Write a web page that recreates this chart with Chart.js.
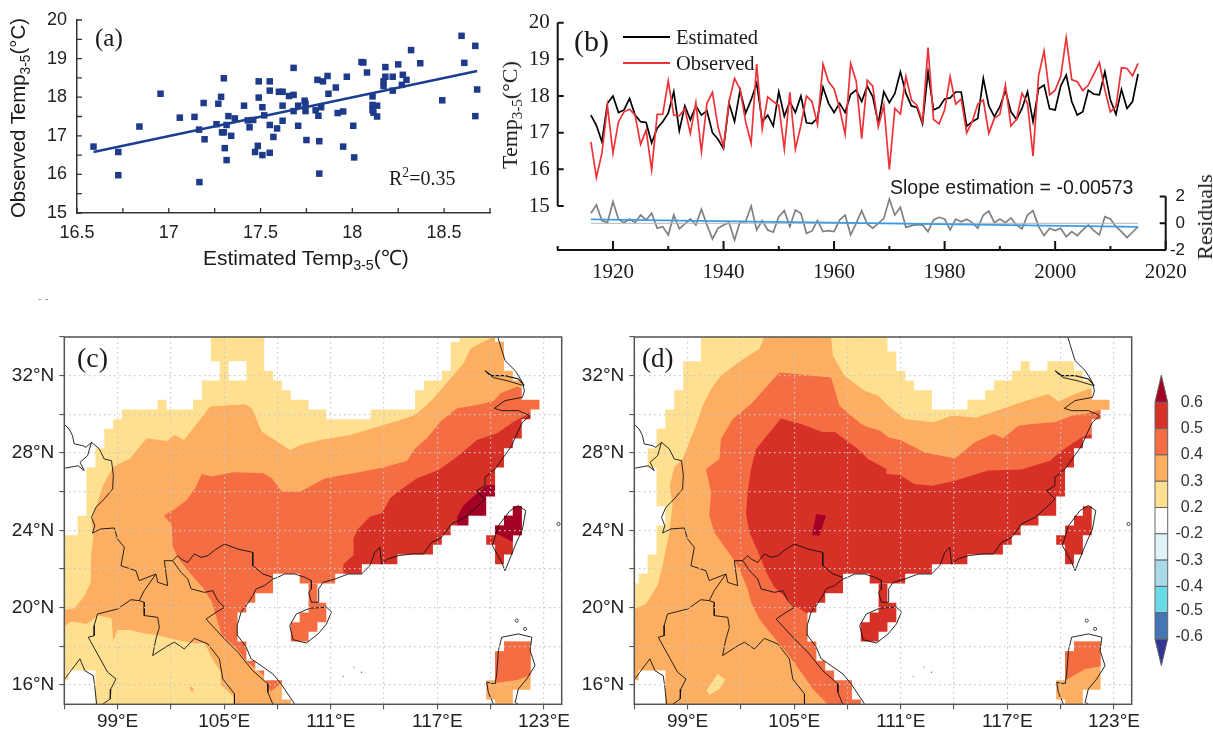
<!DOCTYPE html>
<html>
<head>
<meta charset="utf-8">
<title>Temp 3-5</title>
<script src="https://cdn.jsdelivr.net/npm/chart.js@4"></script>
<style>
body { margin: 0; background: #fff; }
#page { position: relative; width: 1213px; height: 729px; overflow: hidden; }
canvas { position: absolute; }
.t { position: absolute; white-space: nowrap; line-height: 1; color: #1a1a1a; transform: translateY(-50%); }
.rot { transform: translate(-50%, -50%) rotate(-90deg); }
.sans { font-family: "Liberation Sans", sans-serif; }
.serif { font-family: "Liberation Serif", serif; }
sub, sup { font-size: 68%; line-height: 0; }
.key { position: absolute; height: 2px; }
</style>
</head>
<body>
<div id="page">
  <canvas id="chartA" style="left:0;top:-30px" width="500" height="320"></canvas>
  <canvas id="chartB" style="left:500px;top:-30px" width="713" height="320"></canvas>
  <canvas id="chartC" style="left:0;top:295px" width="580" height="434"></canvas>
  <canvas id="chartD" style="left:570px;top:295px" width="580" height="434"></canvas>
  <canvas id="chartBar" style="left:1150px;top:335px" width="63" height="370"></canvas>

  <div class="t serif" style="left:95px;top:37px;font-size:25px">(a)</div>
  <div class="t serif" style="left:389px;top:178px;font-size:20px">R<sup>2</sup>=0.35</div>
  <div class="t sans" style="left:203px;top:257px;font-size:21px">Estimated Temp<sub>3-5</sub>(℃)</div>
  <div class="t sans rot" style="left:18px;top:118px;font-size:20.4px">Observed Temp<sub>3-5</sub>(°C)</div>
  <div class="t sans" style="left:38px;top:298px;font-size:11px;color:#888">- -</div>

  <div class="t serif" style="left:574px;top:41px;font-size:30px">(b)</div>
  <div class="key" style="left:623px;top:36px;width:47px;background:#000"></div>
  <div class="key" style="left:623px;top:62px;width:47px;background:#ee3338"></div>
  <div class="t serif" style="left:676px;top:37px;font-size:20.5px">Estimated</div>
  <div class="t serif" style="left:676px;top:63px;font-size:20.5px">Observed</div>
  <div class="t sans" style="left:890px;top:188px;font-size:19.5px">Slope estimation = -0.00573</div>
  <div class="t serif rot" style="left:510px;top:115px;font-size:22px">Temp<sub>3-5</sub>(°C)</div>
  <div class="t serif rot" style="left:1205px;top:217px;font-size:22px">Residuals</div>

  <div class="t serif" style="left:77px;top:358px;font-size:28px">(c)</div>
  <div class="t serif" style="left:642px;top:358px;font-size:27px">(d)</div>
</div>

<script>
// panel a
var aEstimated = [16.59,16.725,16.725,16.84,16.955,17.06,17.14,17.165,17.167,17.19,17.195,17.26,17.27,17.285,17.30,17.29,17.30,17.315,17.305,17.315,17.325,17.34,17.36,17.41,17.43,17.44,17.46,17.485,17.47,17.49,17.49,17.51,17.51,17.52,17.55,17.55,17.55,17.55,17.57,17.59,17.60,17.62,17.62,17.62,17.655,17.68,17.68,17.68,17.705,17.705,17.74,17.745,17.745,17.75,17.80,17.81,17.815,17.82,17.82,17.83,17.84,17.865,17.87,17.91,17.92,17.95,17.95,17.97,18.005,18.01,18.05,18.06,18.08,18.11,18.11,18.11,18.115,18.135,18.135,18.17,18.17,18.18,18.18,18.22,18.22,18.25,18.275,18.27,18.295,18.32,18.37,18.49,18.595,18.61,18.67,18.67,18.68];
var aObserved = [16.72,16.58,15.98,17.24,18.09,17.47,17.49,17.16,15.80,17.85,16.91,17.30,17.83,18.01,18.49,17.09,17.09,17.28,16.68,16.37,17.51,17.0,17.45,17.78,17.40,17.22,17.41,16.74,16.58,18.41,17.99,16.5,17.74,17.53,18.41,18.17,17.28,16.56,16.97,17.19,18.14,18.14,17.78,17.39,18.03,18.06,18.76,17.64,17.26,17.78,17.91,17.83,17.64,16.89,17.66,18.45,17.52,16.86,16.02,17.74,18.41,18.55,18.09,18.25,17.59,17.63,16.72,18.53,17.26,16.44,18.91,18.90,18.64,18.02,17.8,17.67,17.6,17.78,17.5,18.41,18.29,18.78,18.53,18.17,18.53,18.85,18.58,18.32,18.45,19.22,18.88,17.92,19.59,18.89,19.33,17.51,18.2];
var aFitX = [16.59,18.68];
var aFitY = [16.58,18.68];
var aXTicks = [16.5,16.75,17,17.25,17.5,17.75,18,18.25,18.5,18.75];
var aXLabels = ['16.5','','17','','17.5','','18','','18.5',''];
var aYTicks = [15,15.5,16,16.5,17,17.5,18,18.5,19,19.5,20];
var aYLabels = ['15','','16','','17','','18','','19','','20'];

// panel b
var bEstimated = [17.48,17.2,16.75,17.8,18.0,17.55,17.62,17.93,17.48,17.3,17.28,16.72,17.12,17.3,17.53,18.12,17.05,17.73,17.35,17.73,17.48,17.6,17.0,16.82,16.57,17.8,17.3,18.16,17.53,17.9,18.35,17.3,17.48,17.18,18.12,17.45,17.85,17.55,18.0,17.27,17.25,17.4,18.24,17.8,17.55,17.8,17.55,18.05,18.16,17.85,18.27,17.98,17.25,18.12,17.82,18.07,18.66,18.07,17.73,17.69,17.24,18.66,17.62,17.69,17.92,17.95,18.11,18.11,17.18,17.3,17.39,18.48,17.73,17.44,17.71,18.15,17.57,17.36,17.66,18.12,17.3,18.2,18.3,17.65,17.62,18.27,18.57,17.85,17.48,17.57,18.16,18.05,18.03,18.66,17.89,17.5,18.18,17.66,17.85,18.6];
var bObserved = [16.75,15.78,16.44,17.73,16.44,17.3,17.57,17.64,17.48,16.68,17.07,15.98,17.5,17.5,18.41,17.48,17.46,17.65,16.98,17.82,16.48,17.8,18.1,17.16,16.62,17.85,18.48,18.18,17.3,16.71,18.87,17.1,17.98,17.85,17.75,16.55,18.1,16.55,17.2,18.0,17.85,17.23,18.87,18.39,18.2,17.66,16.96,18.89,18.41,16.84,18.43,18.27,17.16,17.75,16.0,17.66,17.51,18.53,17.89,17.75,17.3,19.32,17.36,17.24,17.62,18.53,17.78,17.92,17.0,17.3,17.78,17.89,16.98,17.39,17.5,18.3,17.18,17.36,18.07,17.8,16.36,18.55,19.23,18.03,18.16,18.53,19.59,18.45,18.39,18.15,18.3,18.6,18.91,18.16,17.57,17.71,18.77,18.75,18.55,18.89];
var bResidual = [0.75,1.38,0.2,0.05,1.62,0.3,0.05,0.32,0.05,0.62,0.25,0.75,-0.37,-0.25,-0.87,0.62,-0.42,-0.05,0.32,-0.12,1.05,-0.12,-1.17,-0.37,-0.12,0.05,-1.25,0.12,0.12,1.3,-0.5,0.2,-0.5,-0.67,0.5,0.95,-0.25,1.0,0.75,-0.75,-0.57,0.2,-0.62,-0.55,-0.62,0.25,0.62,-0.87,0,0.95,-0.05,-0.37,0,0.37,1.82,0.62,1.2,-0.3,-0.17,-0.1,-0.12,-0.62,0.25,0.45,0.32,-0.5,0.32,0.12,0.3,0.05,-0.37,0.62,0.92,0.05,0.32,0.05,0.4,-0.12,-0.42,0.62,0.95,-0.25,-0.92,-0.37,-0.55,-0.37,-1.0,-0.62,-0.92,-0.5,-0.12,-0.55,-0.87,0.5,0.32,-0.25,-0.62,-1.07,-0.67,-0.25];
var bYears = [];
for (var yr = 1916; yr <= 2015; yr++) { bYears.push(yr); }
var bTrendX = [1916,2015];
var bTrendY = [0.3,-0.27];
var bZeroY = [0,0];
var bXMajor = [1920,1940,1960,1980,2000,2020];
var bXLabels = ['1920','1940','1960','1980','2000','2020'];
var bXMinor = [1910,1930,1950,1970,1990,2010];
var bYTicks = [15,16,17,18,19,20];
var bResTicks = [-2,0,2];

// maps, all pairs are lon,lat
var mapLonTicks = [96,99,102,105,108,111,114,117,120,123];
var mapLonLabels = ['','99°E','','105°E','','111°E','','117°E','','123°E'];
var mapLatTicks = [16,18,20,22,24,26,28,30,32,34];
var mapLatLabels = ['16°N','','20°N','','24°N','','28°N','','32°N',''];

var wholeMap = [96,15, 124,15, 124,34, 96,34];

var cLevel3 = [96,19.02, 96.41,19.28, 97.25,19.16, 97.91,19.59, 98.66,19.45, 98.76,18.24, 98.98,18.84, 99.7,18.84, 100.45,18.67, 101.2,18.59, 102.33,18.33, 103.27,18.16, 103.92,18.16, 104.3,17.38, 104.81,16.69, 104.81,16, 105.52,15.4, 105.52,15, 124,15, 124,34, 120.25,34, 119.98,33.93, 118.86,33.41, 118.48,32.64, 116.7,30.74, 115.76,29.97, 114.91,29.71, 112.09,28.93, 110.4,28.67, 109.27,28.41, 108.72,28.16, 107.12,29.1, 106.56,30.31, 106.18,30.52, 104.21,30.4, 102.74,28.67, 102.23,28.93, 101.76,28.62, 100.64,28.76, 99.7,27.72, 98.76,27.29, 98.19,26.34, 97.53,24.45, 97.63,23.59, 97.5,22.72, 97.5,21.34, 97.16,20.66, 96.59,19.97, 96,19.88];
var cLevel4 = [101.61,24.76, 102.05,24.28, 102.1,23.16, 102.42,22.55, 103.08,21.78, 103.83,21, 104.3,20.31, 104.58,19.45, 104.86,18.59, 105.62,17.98, 106.27,17.21, 107.21,16.52, 107.63,15.66, 108.25,16.14, 124,16.14, 124,31.3, 121.77,31.34, 121.49,31.43, 120.55,31.09, 120.17,30.69, 119.23,30.48, 118.11,30.31, 117.17,29.62, 116.41,28.76, 115.76,28.24, 115.29,27.59, 113.78,27.21, 112.28,26.95, 110.68,26.69, 109.27,26, 108.25,26, 107.68,26.69, 107.21,26.95, 105.52,27, 104.3,26.78, 103.74,26.91, 103.36,26.17, 102.89,25.57, 102.14,25.05];
var cLevel5 = [111.71,21.5, 111.71,22.24, 112.28,22.72, 112.28,23.59, 112.56,24.1, 113.22,24.71, 113.88,24.88, 114.35,25.66, 114.91,26.09, 115.85,26.69, 117.07,27.12, 118.11,27.81, 119.23,28.67, 120.36,29.02, 121.3,29.62, 122.24,30.1, 124,30.1, 124,21.5];
var cLevel6 = [118.11,24, 118.11,24.7, 118.48,25.31, 119.23,25.91, 119.8,26.34, 124,26.34, 124,24];
var cSpot = [103.1,15.95, 103.3,15.78, 103.2,15.62, 103.05,15.8];
var cWestMask = [96,34, 104.25,34, 104.25,32.75, 104.75,32.75, 104.75,31.75, 103.75,31.75, 103.75,30.75, 103.25,30.75, 103.25,30.25, 101.75,30.25, 101.75,30.75, 101.25,30.75, 101.25,30.25, 99.25,30.25, 99.25,29.75, 98.75,29.75, 98.75,29.25, 98.25,29.25, 98.25,28.25, 97.75,28.25, 97.75,27.25, 97.25,27.25, 97.25,24.75, 96.75,24.75, 96.75,23.75, 96,23.75];
var cHole = [105.25,32.75, 106.25,32.75, 106.25,31.75, 105.25,31.75];
var cNorthMask = [107.25,34, 107.25,32.25, 107.75,32.25, 107.75,31.75, 108.25,31.75, 108.25,31.25, 108.75,31.25, 108.75,30.75, 109.75,30.75, 109.75,30.25, 110.75,30.25, 110.75,29.75, 113.25,29.75, 113.25,30.25, 115.75,30.25, 115.75,31.25, 116.25,31.25, 116.25,31.75, 117.25,31.75, 117.25,32.25, 117.75,32.25, 117.75,33.75, 118.25,33.75, 118.25,34];
var cTopRow = [120.25,34, 120.75,34, 120.75,33.75, 120.25,33.75];
var cTaiwanDark = [121.25,25.25, 121.75,25.25, 121.75,23.75, 121.25,23.75, 121.25,23.4, 120.6,23.7, 120.25,23.85, 120.25,24.25, 120.75,24.25, 120.75,24.75, 121.25,24.75];
var cLuzonTop = [120.75,18.25, 122.25,18.25, 122.25,16.52, 121.5,16.26, 120.25,16.1, 120.25,17.75, 120.75,17.75];

var dLevel3 = [96,19.93, 96.65,20.19, 97.31,21.14, 97.59,22.17, 97.97,23.9, 98.15,25.28, 98,26.31, 98.25,27.26, 98.72,27.69, 99.09,28.55, 99.47,29.41, 99.85,30.45, 100.32,31.31, 100.88,32, 102.01,32.78, 103.04,33.38, 103.32,34, 107.08,34, 107.18,33.03, 107.83,32, 108.96,31.22, 109.72,30.97, 110.29,30.45, 111.23,29.76, 112.82,29.59, 113.86,29.93, 115.27,29.84, 116.68,30.28, 118.09,30.71, 119.31,31.05, 119.87,30.66, 120.81,31.05, 121.56,31.31, 124,31.31, 124,15, 96,15];
var dLevel4 = [106.89,15, 106.05,15.79, 105.39,16.66, 104.64,17.6, 103.7,18.64, 103.04,19.41, 102.57,20.28, 102.38,20.97, 101.91,22, 101.44,22.69, 100.5,23.9, 100.22,24.76, 100.32,25.97, 100.03,27.17, 100.79,27.69, 100.88,28.72, 101.54,29.76, 102.57,30.53, 104.17,32.17, 107.08,31.91, 107.55,30.45, 108.77,29.5, 109.16,29.33, 109.82,29.16, 110.29,28.81, 111.04,28.64, 112.35,28.03, 114.05,27.72, 115.17,28.55, 116.21,28.98, 116.77,28.76, 117.62,29.41, 118.37,29.5, 119.68,29.59, 120.62,29.93, 121.56,30.07, 122.41,30.28, 124,30.28, 124,15];
var dLevel5 = [105.86,19.62, 105.02,20.1, 103.89,21.05, 103.42,21.83, 103.14,22.52, 102.85,23.12, 102.48,23.9, 102.29,24.84, 102.38,25.97, 102.57,27.17, 102.85,28.21, 104.26,29.79, 105.39,29.5, 106.61,29.07, 107.27,29.1, 108.59,28.21, 109.16,27.69, 110.19,27.17, 110.19,26.91, 110.94,26.86, 111.75,26.4, 112.77,26.31, 114.05,26.57, 115.92,27.09, 117.8,27.14, 119.4,27.6, 120.06,28.12, 121.19,28.81, 121.79,28.98, 124,28.98, 124,19.62];
var dLevel6 = [106.24,24.84, 106.8,24.76, 106.42,23.72, 106.01,23.76];
var dSpot = [100.07,15.71, 100.69,16.57, 101.12,16.28, 100.79,15.79, 100.22,15.48];
var dWestMask = [96,34, 99.75,34, 99.75,32.75, 98.75,32.75, 98.75,31.25, 98.25,31.25, 98.25,30.25, 97.75,30.25, 97.75,29.25, 97.25,29.25, 97.25,28.25, 96.75,28.25, 96.75,27.25, 97.25,27.25, 97.25,25.25, 97.75,25.25, 97.75,24.25, 97.25,24.25, 97.25,22.75, 96.75,22.75, 96.75,21.75, 96.25,21.75, 96.25,21.25, 96,21.25];
var dNorthMask = [110.25,34, 110.25,33.25, 110.75,33.25, 110.75,32.25, 111.25,32.25, 111.25,31.75, 111.75,31.75, 111.75,31.25, 112.75,31.25, 112.75,30.25, 114.75,30.25, 114.75,30.75, 115.75,30.75, 115.75,31.25, 116.25,31.25, 116.25,31.75, 117.25,31.75, 117.25,32.25, 117.75,32.25, 117.75,32.75, 118.25,32.75, 118.25,32.25, 119.25,32.25, 119.25,32.75, 120.75,32.75, 120.75,34];
var dLuzonTop = [120.75,18.25, 122.25,18.25, 122.25,16.97, 121.38,16.83, 120.4,16.31, 120.25,16.25, 120.25,17.75, 120.75,17.75];

// land mask shared by both maps
var seaMask = [120.75,34, 120.75,32.25, 121.25,32.25, 121.25,31.75, 121.75,31.75, 121.75,30.75, 122.75,30.75, 122.75,30.25, 122.25,30.25, 122.25,29.75, 121.75,29.75, 121.75,28.75, 121.25,28.75, 121.25,28.25, 120.75,28.25, 120.75,27.25, 120.25,27.25, 120.25,25.75, 119.75,25.75, 119.75,24.75, 118.75,24.75, 118.75,24.25, 117.75,24.25, 117.75,23.75, 117.25,23.75, 117.25,23.25, 116.75,23.25, 116.75,22.75, 114.75,22.75, 114.75,22.25, 112.75,22.25, 112.75,21.75, 111.25,21.75, 111.25,21.25, 109.25,21.25, 109.25,21.75, 107.75,21.75, 107.75,20.75, 106.75,20.75, 106.75,20.25, 106.25,20.25, 106.25,19.75, 105.75,19.75, 105.75,18.25, 106.25,18.25, 106.25,17.25, 106.75,17.25, 106.75,16.75, 107.25,16.75, 107.25,16.25, 108.25,16.25, 108.25,15.25, 108.75,15.25, 108.75,15, 124,15, 124,34];
var bayMask = [96,16.25, 96.25,16.25, 96.25,16.75, 97.75,16.75, 97.75,15, 96,15];
var hainanCells = [109.75,21.25, 110.25,21.25, 110.25,20.25, 110.75,20.25, 110.75,19.25, 110.25,19.25, 110.25,18.75, 109.75,18.75, 109.75,18.25, 108.75,18.25, 108.75,19.25, 109.25,19.25, 109.25,19.75, 109.75,19.75];
var taiwanCells = [121.25,25.25, 121.75,25.25, 121.75,23.75, 121.25,23.75, 121.25,22.75, 120.75,22.75, 120.75,22.25, 120.25,22.25, 120.25,23.25, 119.75,23.25, 119.75,23.75, 120.25,23.75, 120.25,24.25, 120.75,24.25, 120.75,24.75, 121.25,24.75];
var luzonCells = [120.75,18.25, 122.25,18.25, 122.25,15.75, 121.25,15.75, 121.25,15, 120.25,15, 120.25,15.25, 119.75,15.25, 119.75,16.25, 120.25,16.25, 120.25,17.75, 120.75,17.75];

// coast and borders
var lineNorthBorder = [96,29.48, 96.27,29.24, 96.46,28.9, 96.56,28.47, 97.03,28.38, 97.21,28.29, 97.53,28.55, 97.97,28.21, 98.25,27.69, 98.66,27.6, 98.76,26.83, 98.72,26.14, 98.25,25.62, 97.78,25.19, 97.53,24.67, 97.72,24.24, 97.59,23.86, 98.06,24.07, 98.81,24.12, 99,23.55, 99.38,23.12, 99.19,22.17, 100.03,21.91, 100.22,21.4, 101.16,21.74, 101.26,21.31, 101.82,21.14, 101.63,22.43, 102.1,22.43, 102.38,22.69, 102.6,22.5, 102.95,22.34, 103.32,22.78, 103.7,22.6, 104.08,22.69, 104.5,23.0, 105.02,23.29, 105.77,23.03, 106.61,22.86, 106.61,22.17, 107.18,21.74, 107.74,21.57];
var lineIndiaBorder = [96,27.21, 96.78,27.34, 97.12,27.09, 96.89,27.52, 97.31,27.86, 97.53,28.55];
var lineVietnamLaos = [102.1,22.43, 102.57,21.83, 102.95,21.48, 103.14,20.97, 103.89,20.79, 104.36,20.88, 104.64,20.36, 105.02,20.02, 104.55,19.76, 103.98,19.41, 105.02,18.38, 105.77,17.69, 106.61,16.74, 107.46,16.05, 107.46,15.62, 107.74,15];
var lineLaosThai = [101.16,21.74, 100.5,20.88, 100.22,20.36, 100.5,20.28, 100.5,19.59, 101.26,19.5, 101.35,18.98, 101.16,18.38, 100.97,17.52, 101.82,18.03, 102.2,18.21, 102.76,17.86, 103.32,18.41, 104.08,18.12, 104.73,17.35, 104.92,16.31, 105.58,15.54, 105.58,15];
var lineBurmaThai = [100.22,20.36, 99.75,20.41, 99,19.93, 97.87,19.67, 97.68,19.07, 97.68,18.55, 97.35,18.47, 97.87,17.6, 98.44,16.66, 98.91,16.31, 98.62,15.79, 98.59,15.28, 98.15,15];
var lineBurmaCoast = [96,16.28, 96.31,16.66, 96.88,17.35, 97.16,16.74, 97.63,16.48, 97.72,15.88, 97.82,15];
var lineMainCoast = [108.96,15.02, 108.21,16.05, 107.74,16.57, 107.08,17, 106.52,17.35, 106.24,17.95, 105.77,18.55, 105.73,19.07, 105.95,19.76, 106.24,20.1, 106.61,20.62, 106.8,20.97, 107.27,21.14, 107.74,21.48, 108.02,21.57, 108.4,21.74, 108.97,21.74, 109.53,21.57, 109.91,21.4, 109.91,20.97, 109.76,20.79, 109.91,20.28, 110.29,20.28, 110.32,20.97, 110.57,21.31, 111.23,21.48, 111.98,21.74, 112.73,21.74, 113.2,22.17, 113.48,22.86, 113.76,23.12, 113.86,22.26, 114.23,22.52, 114.8,22.69, 115.64,22.78, 116.21,22.78, 116.68,23.38, 117.24,23.64, 117.8,24.33, 118.56,24.67, 119.31,25.28, 119.68,25.62, 119.21,26.05, 119.68,26.31, 119.68,26.74, 120.25,27.17, 120.72,27.78, 121.19,28.38, 121.38,28.81, 121.79,29.59, 122.22,29.93, 121.56,30.19, 120.62,30.19, 120.21,30.31, 120.81,30.71, 121.79,30.88, 121.9,31.22, 121.79,31.66, 121.38,32.26, 120.81,32.78, 120.4,34];
var lineYangtze = [119.68,32.26, 120.06,32, 120.81,32, 121.56,31.83, 121.9,31.48];
var lineYangtze2 = [119.78,32.15, 120.15,31.9, 120.97,31.73, 121.8,31.5];
var lineHainan = [108.69,19.07, 109.06,19.67, 109.82,19.97, 110.76,20.02, 111.04,19.79, 110.76,19.16, 110.29,18.64, 109.63,18.17, 108.88,18.34, 108.69,19.07];
var lineTaiwan = [121.56,25.28, 121.98,25.02, 121.79,24.07, 121.38,23.21, 120.81,21.91, 120.62,22.34, 120.1,23.21, 120.44,24.24, 121.09,25.02, 121.56,25.28];
var lineLuzonEast = [120.62,18.47, 121.56,18.64, 122.32,18.47, 122.22,17.78, 122.5,17, 122.03,16.31, 121.56,15.79, 121.38,15.1, 121.56,15];
var lineLuzonWest = [120.62,18.47, 120.44,17.78, 120.34,16.57, 120.25,16.05, 119.78,16.14, 119.87,15.62, 120.16,15];
var islets = [121.47,19.33, 121.94,18.9, 123.82,24.33];
var reefs = [112.3,16.93, 111.7,16.45, 112.73,16.66];

// colour bar, low to high
var barColors = ['#4575b4','#6adbe6','#abd9e9','#e0f3f8','#ffffff','#fee090','#fdae61','#f46d43','#d73027'];
var barLowColor = '#313695';
var barHighColor = '#a50026';
var barLabels = ['-0.6','-0.5','-0.4','-0.3','-0.2','0.2','0.3','0.4','0.5','0.6'];
var barLabelPos = [0.11,1.08,2,3,4,5,6,7,8,9];

var Y3 = '#fee090', O4 = '#fdae61', R5 = '#f46d43', D6 = '#d73027', K7 = '#a50026';

function toPoints(flat) {
  var out = [];
  for (var i = 0; i < flat.length; i += 2) {
    out.push({ x: flat[i], y: flat[i + 1] });
  }
  return out;
}

function zip(xs, ys) {
  return xs.map(function (x, i) { return { x: x, y: ys[i] }; });
}

function area(flat, color, outline) {
  return { data: toPoints(flat), polygon: true, showLine: false, pointRadius: 0, backgroundColor: color, outline: outline };
}

function line(flat, width) {
  return { data: toPoints(flat), showLine: true, pointRadius: 0, borderColor: '#111', borderWidth: width || 0.9, tension: 0, fill: false };
}

function setTicks(values) {
  return function (scale) {
    scale.ticks = values.map(function (v) { return { value: v }; });
  };
}

function fixWidth(w) { return function (scale) { scale.width = w; }; }
function fixHeight(h) { return function (scale) { scale.height = h; }; }

// closes a scatter dataset into a filled shape, points come from the scales
var polygonFill = {
  id: 'polygonFill',
  beforeDatasetDraw: function (chart, args) {
    var ds = chart.data.datasets[args.index];
    if (!ds.polygon) return;
    var ctx = chart.ctx;
    ctx.save();
    ctx.beginPath();
    args.meta.data.forEach(function (p, i) {
      if (i === 0) ctx.moveTo(p.x, p.y); else ctx.lineTo(p.x, p.y);
    });
    ctx.closePath();
    ctx.fillStyle = ds.backgroundColor;
    ctx.fill();
    if (ds.outline) {
      ctx.strokeStyle = ds.outline;
      ctx.lineWidth = 1;
      ctx.stroke();
    }
    ctx.restore();
  }
};

var mapFrame = {
  id: 'mapFrame',
  afterDraw: function (chart) {
    var a = chart.chartArea, ctx = chart.ctx;
    ctx.save();
    ctx.strokeStyle = '#555';
    ctx.lineWidth = 1.5;
    ctx.strokeRect(a.left, a.top, a.right - a.left, a.bottom - a.top);
    ctx.restore();
  }
};

// ticks in a and b point into the plot
function inwardTicks(list) {
  return {
    id: 'inwardTicks',
    afterDraw: function (chart) {
      var ctx = chart.ctx, a = chart.chartArea;
      ctx.save();
      list.forEach(function (t) {
        var s = chart.scales[t.scale];
        ctx.strokeStyle = t.color;
        ctx.lineWidth = t.width;
        ctx.beginPath();
        t.values.forEach(function (v) {
          var p = s.getPixelForValue(v);
          if (s.axis === 'x') { ctx.moveTo(p, a.bottom); ctx.lineTo(p, a.bottom - t.len); }
          else if (s.position === 'left') { ctx.moveTo(a.left, p); ctx.lineTo(a.left + t.len, p); }
          else { ctx.moveTo(a.right, p); ctx.lineTo(a.right - t.len, p); }
        });
        ctx.stroke();
      });
      ctx.restore();
    }
  };
}

// left and right axis of panel b stop at their own value range
var axisParts = {
  id: 'axisParts',
  afterDraw: function (chart) {
    var ctx = chart.ctx, a = chart.scales.y, b = chart.scales.yRes;
    ctx.save();
    ctx.strokeStyle = '#111';
    ctx.lineWidth = 2;
    ctx.beginPath();
    ctx.moveTo(chart.chartArea.left, a.getPixelForValue(15));
    ctx.lineTo(chart.chartArea.left, a.getPixelForValue(20));
    ctx.moveTo(chart.chartArea.right, b.getPixelForValue(-2));
    ctx.lineTo(chart.chartArea.right, b.getPixelForValue(2));
    ctx.stroke();
    ctx.restore();
  }
};

Chart.defaults.animation = false;
Chart.defaults.events = [];
Chart.defaults.responsive = false;
Chart.defaults.plugins.legend.display = false;
Chart.defaults.plugins.tooltip.enabled = false;

new Chart(document.getElementById('chartA'), {
  type: 'scatter',
  data: {
    datasets: [
      { data: zip(aFitX, aFitY), showLine: true, pointRadius: 0, borderColor: '#1c3f8f', borderWidth: 2.6 },
      { data: zip(aEstimated, aObserved), pointStyle: 'rect', pointRadius: 4.6, pointBackgroundColor: '#1e3a8a', pointBorderWidth: 0 }
    ]
  },
  options: {
    layout: { padding: { top: 50, right: 10 } },
    scales: {
      x: {
        type: 'linear', min: 16.5, max: 18.75,
        afterBuildTicks: setTicks(aXTicks), afterFit: fixHeight(77),
        ticks: { autoSkip: false, maxRotation: 0, padding: 9, color: '#222', font: { family: 'Liberation Sans', size: 18 }, callback: function (v, i) { return aXLabels[i]; } },
        grid: { drawOnChartArea: false, drawTicks: false },
        border: { color: '#333', width: 1.5 }
      },
      y: {
        min: 15, max: 20,
        afterBuildTicks: setTicks(aYTicks), afterFit: fixWidth(77),
        ticks: { autoSkip: false, padding: 10, color: '#222', font: { family: 'Liberation Sans', size: 18 }, callback: function (v, i) { return aYLabels[i]; } },
        grid: { drawOnChartArea: false, drawTicks: false },
        border: { color: '#333', width: 1.5 }
      }
    }
  },
  plugins: [inwardTicks([
    { scale: 'x', values: aXTicks, len: 5, width: 1.3, color: '#333' },
    { scale: 'y', values: aYTicks, len: 5, width: 1.3, color: '#333' }
  ])]
});

new Chart(document.getElementById('chartB'), {
  type: 'scatter',
  data: {
    datasets: [
      { data: zip(bYears, bObserved), showLine: true, pointRadius: 0, borderColor: '#ee3338', borderWidth: 1.7 },
      { data: zip(bYears, bEstimated), showLine: true, pointRadius: 0, borderColor: '#000', borderWidth: 1.7 },
      { data: zip(bTrendX, bTrendY), yAxisID: 'yRes', showLine: true, pointRadius: 0, borderColor: '#3a9be8', borderWidth: 1.7 },
      { data: zip(bTrendX, bZeroY), yAxisID: 'yRes', showLine: true, pointRadius: 0, borderColor: '#b5b5b5', borderWidth: 1 },
      { data: zip(bYears, bResidual), yAxisID: 'yRes', showLine: true, pointRadius: 0, borderColor: '#808080', borderWidth: 1.7 }
    ]
  },
  options: {
    layout: { padding: { top: 52.7, right: 28 } },
    scales: {
      x: {
        type: 'linear', min: 1910, max: 2020,
        afterBuildTicks: setTicks(bXMajor), afterFit: fixHeight(40),
        ticks: { autoSkip: false, maxRotation: 0, padding: 10, color: '#1a1a1a', font: { family: 'Liberation Serif', size: 21 }, callback: function (v, i) { return bXLabels[i]; } },
        grid: { drawOnChartArea: false, drawTicks: false },
        border: { color: '#111', width: 2 }
      },
      y: {
        position: 'left', min: 13.8, max: 20,
        afterBuildTicks: setTicks(bYTicks), afterFit: fixWidth(57.7),
        ticks: { autoSkip: false, padding: 8, color: '#1a1a1a', font: { family: 'Liberation Serif', size: 21 } },
        grid: { drawOnChartArea: false, drawTicks: false },
        border: { display: false }
      },
      yRes: {
        position: 'right', min: -2, max: 15.03,
        afterBuildTicks: setTicks(bResTicks), afterFit: fixWidth(19.3),
        ticks: { autoSkip: false, crossAlign: 'far', color: '#1a1a1a', font: { family: 'Liberation Sans', size: 17 } },
        grid: { drawOnChartArea: false, drawTicks: false },
        border: { display: false }
      }
    }
  },
  plugins: [axisParts, inwardTicks([
    { scale: 'x', values: bXMajor, len: 9, width: 2, color: '#111' },
    { scale: 'x', values: bXMinor, len: 4, width: 2, color: '#111' },
    { scale: 'y', values: bYTicks, len: 6, width: 2, color: '#111' },
    { scale: 'yRes', values: bResTicks, len: 6, width: 2, color: '#111' }
  ])]
});

function mapChart(id, layers) {
  layers.forEach(function (ds, i) { ds.order = layers.length - i; });
  new Chart(document.getElementById(id), {
    type: 'scatter',
    data: { datasets: layers },
    options: {
      layout: { padding: { top: 42, right: 18.3 } },
      scales: {
        x: {
          type: 'linear', min: 96, max: 124,
          afterBuildTicks: setTicks(mapLonTicks), afterFit: fixHeight(24.7),
          ticks: { autoSkip: false, maxRotation: 0, padding: 1, color: '#222', font: { family: 'Liberation Sans', size: 19 }, callback: function (v, i) { return mapLonLabels[i]; } },
          grid: { z: 1, color: '#c8c8c8', lineWidth: 1.2, tickLength: 5, tickColor: '#444', tickWidth: 1 },
          border: { display: false, dash: [1.5, 3.5] }
        },
        y: {
          min: 15, max: 34,
          afterBuildTicks: setTicks(mapLatTicks), afterFit: fixWidth(64.3),
          ticks: { autoSkip: false, padding: 5, color: '#222', font: { family: 'Liberation Sans', size: 19 }, callback: function (v, i) { return mapLatLabels[i]; } },
          grid: { z: 1, color: '#c8c8c8', lineWidth: 1.2, tickLength: 5, tickColor: '#444', tickWidth: 1 },
          border: { display: false, dash: [1.5, 3.5] }
        }
      }
    },
    plugins: [polygonFill, mapFrame]
  });
}

function coastLayers() {
  return [
    line(lineNorthBorder), line(lineIndiaBorder), line(lineVietnamLaos), line(lineLaosThai), line(lineBurmaThai), line(lineBurmaCoast),
    line(lineMainCoast), line(lineYangtze, 1.2), line(lineYangtze2), line(lineHainan), line(lineTaiwan), line(lineLuzonEast), line(lineLuzonWest),
    { data: toPoints(islets), pointRadius: 1.6, pointBackgroundColor: '#fff', pointBorderColor: '#222', pointBorderWidth: 0.8 },
    { data: toPoints(reefs), pointRadius: 0.6, pointBackgroundColor: '#444', pointBorderWidth: 0 }
  ];
}

mapChart('chartC', [
  area(wholeMap, Y3), area(cLevel3, O4), area(cLevel4, R5), area(cLevel5, D6), area(cLevel6, K7), area(cSpot, O4),
  area(seaMask, '#fff'), area(bayMask, '#fff'), area(cWestMask, '#fff'), area(cHole, '#fff'), area(cNorthMask, '#fff'), area(cTopRow, '#fff'),
  area(hainanCells, R5), area(taiwanCells, D6), area(cTaiwanDark, K7), area(luzonCells, O4), area(cLuzonTop, R5)
].concat(coastLayers()));

mapChart('chartD', [
  area(wholeMap, Y3), area(dLevel3, O4), area(dSpot, Y3), area(dLevel4, R5), area(dLevel5, D6), area(dLevel6, K7),
  area(seaMask, '#fff'), area(bayMask, '#fff'), area(dWestMask, '#fff'), area(dNorthMask, '#fff'),
  area(hainanCells, D6), area(taiwanCells, D6), area(luzonCells, O4), area(dLuzonTop, R5)
].concat(coastLayers()));

var barLayers = barColors.map(function (c, i) {
  return area([0, i, 1, i, 1, i + 1, 0, i + 1], c, '#666');
});
barLayers.push(area([0, 0, 1, 0, 0.5, -1.015], barLowColor, '#666'));
barLayers.push(area([0, 9, 1, 9, 0.5, 10.04], barHighColor, '#666'));

new Chart(document.getElementById('chartBar'), {
  type: 'scatter',
  data: { datasets: barLayers },
  options: {
    layout: { padding: { top: 40, bottom: 39.3, left: 5, right: 10 } },
    scales: {
      x: { type: 'linear', min: 0, max: 1, display: false },
      y: {
        position: 'right', min: -1.015, max: 10.04,
        afterBuildTicks: setTicks(barLabelPos), afterFit: fixWidth(35.3),
        ticks: { autoSkip: false, crossAlign: 'far', color: '#333', font: { family: 'Liberation Sans', size: 16 }, callback: function (v, i) { return barLabels[i]; } },
        grid: { display: false, drawTicks: false },
        border: { display: false }
      }
    }
  },
  plugins: [polygonFill]
});
</script>
</body>
</html>
